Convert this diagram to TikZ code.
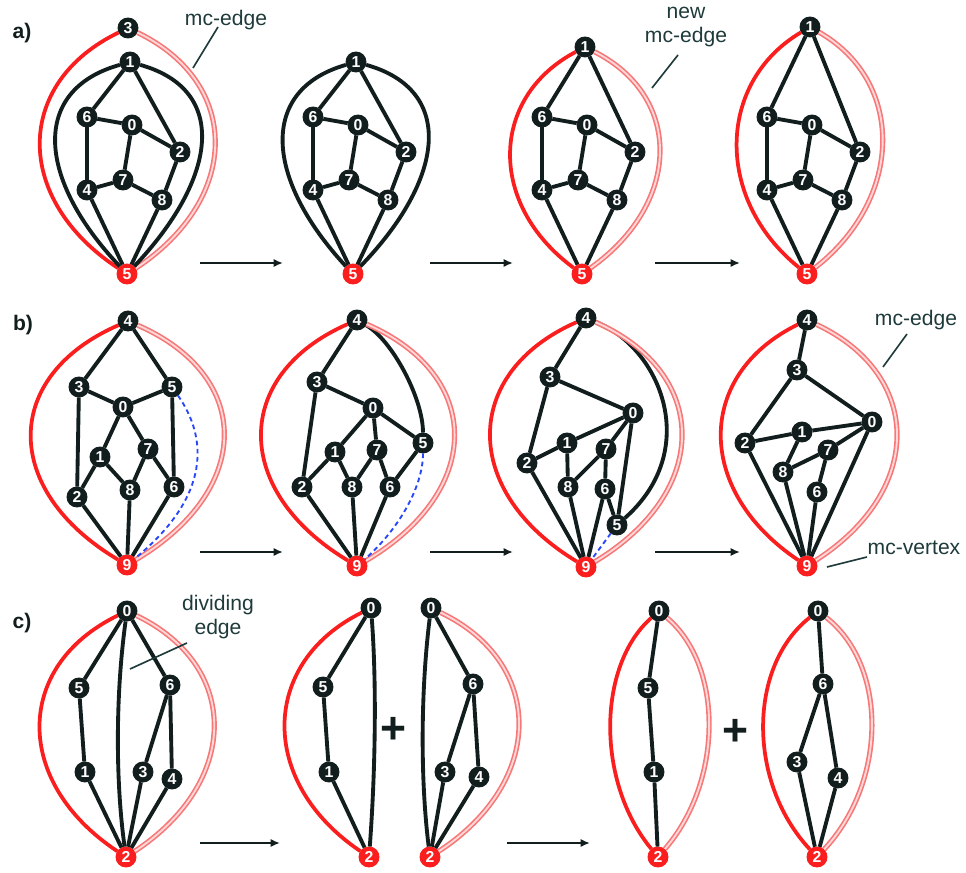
\documentclass[tikz,border=0pt]{standalone}
\usepackage{fontspec}
\setmainfont{Liberation Sans}
\usepackage{xcolor}
\usetikzlibrary{arrows.meta}
\definecolor{ink}    {RGB}{18,30,30}
\definecolor{labelc} {RGB}{30,58,58}
\definecolor{mcred}  {RGB}{250,30,30}
\definecolor{mcpink} {RGB}{246,120,120}
\definecolor{mcpale} {RGB}{255,215,215}
\definecolor{cutblue}{RGB}{40,70,250}
\tikzset{
  vtx/.style     ={circle, fill=ink, draw=ink, line width=0.8pt, text=white,
                   minimum size=0.6cm, inner sep=0pt,
                   font=\fontsize{13.5}{13.5}\selectfont\bfseries},
  rvtx/.style    ={vtx, fill=mcred, draw=mcred},
  link/.style    ={draw=ink, line width=3.3pt},
  mcl/.style     ={draw=mcred, line width=3.2pt},
  mcr/.style     ={draw=mcpink, line width=1.4pt, double=mcpale,
                   double distance=1.6pt},
  dashlink/.style={draw=cutblue, line width=1.6pt, dash pattern=on 4pt off 3pt},
  arr/.style     ={-{Latex[length=8pt,width=7pt]}, draw=ink, line width=2.4pt},
  lbl/.style     ={text=labelc, font=\fontsize{18}{21}\selectfont,
                   inner sep=0pt, align=center},
  leader/.style  ={draw=labelc, line width=1.4pt},
  panel/.style   ={text=ink, font=\fontsize{18}{18}\selectfont\bfseries,
                   inner sep=0pt},
  plussign/.style={text=ink, font=\fontsize{38}{38}\selectfont\bfseries,
                   inner sep=0pt},
}
\begin{document}
\begin{tikzpicture}[x=0.03cm,y=-0.03cm]
  \useasboundingbox (0,0) rectangle (966,873);

  % row a
  \node[panel] (ta) at (22,33) {a)};
  \foreach \p/\s/\t in {a1/0/62,a2/226/62,a3/455/47,a4/680/27}{
    \begin{scope}[shift={(\s,0)}]
      \node[vtx] (\p1) at (130,\t) {1};
      \foreach \n/\x/\y in {6/87/117,0/132/125,2/180/152,7/123/180,4/87/190,8/162/200}
        \node[vtx] (\p\n) at (\x,\y) {\n};
      \node[rvtx] (\p5) at (127,274) {5};
      \foreach \u/\v in {1/6,1/2,6/0,6/4,0/2,0/7,4/7,7/8,2/8,4/5,8/5}
        \draw[link] (\p\u) -- (\p\v);
    \end{scope}
  }
  \node[vtx] (a13) at (128,28) {3};
  \draw[mcl] (a13) .. controls +(-114,55) and +(-114,-75) .. (a15);
  \draw[mcr] (a13) .. controls +(114,55) and +(114,-75) .. (a15);
  \draw[link] (a11) .. controls +(-100,28) and +(-90,-95) .. (a15);
  \draw[link] (a11) .. controls +(100,28) and +(90,-95) .. (a15);
  \draw[link] (a21) .. controls +(-98,28) and +(-88,-95) .. (a25);
  \draw[link] (a21) .. controls +(100,28) and +(92,-95) .. (a25);
  \draw[mcl] (a31) .. controls +(-95,50) and +(-95,-70) .. (a35);
  \draw[mcr] (a31) .. controls +(99,50) and +(99,-70) .. (a35);
  \draw[mcl] (a41) .. controls +(-93,55) and +(-93,-75) .. (a45);
  \draw[mcr] (a41) .. controls +(96,55) and +(96,-75) .. (a45);

  \node[lbl] (la1) at (226,20) {mc-edge};
  \coordinate (la1s) at (218,27);
  \coordinate (la1e) at (193,68);
  \draw[leader] (la1s) -- (la1e);
  \node[lbl] (la3) at (686,27) {new\\mc-edge};
  \coordinate (la3s) at (678,55);
  \coordinate (la3e) at (652,88);
  \draw[leader] (la3s) -- (la3e);

  % row b
  \node[panel] (tb) at (23,325) {b)};
  \foreach \n/\x/\y in {4/128/321,3/79/387,5/172/387,0/123/407,7/148/449,1/100/457,2/77/497,8/130/490,6/174/487}
    \node[vtx] (b1\n) at (\x,\y) {\n};
  \node[rvtx] (b19) at (127,565) {9};
  \foreach \u/\v in {4/3,4/5,3/0,5/0,3/2,5/6,0/1,0/7,1/2,1/8,7/8,7/6,2/9,8/9,6/9}
    \draw[link] (b1\u) -- (b1\v);
  \draw[mcl] (b14) .. controls +(-126,55) and +(-126,-75) .. (b19);
  \draw[mcr] (b14) .. controls +(126,55) and +(126,-75) .. (b19);
  \draw[dashlink] (b15) .. controls +(35,50) and +(85,-70) .. (b19);

  \foreach \n/\x/\y in {4/357/320,3/317/382,0/373/408,1/335/452,7/377/450,5/423/443,2/302/487,8/352/487,6/390/487}
    \node[vtx] (b2\n) at (\x,\y) {\n};
  \node[rvtx] (b29) at (357,566) {9};
  \foreach \u/\v in {4/3,3/0,3/2,0/1,0/7,0/5,1/2,1/8,7/8,7/6,5/6,2/9,8/9,6/9}
    \draw[link] (b2\u) -- (b2\v);
  \draw[link] (b24) .. controls +(35,20) and +(0,-45) .. (b25);
  \draw[mcl] (b24) .. controls +(-125,55) and +(-125,-75) .. (b29);
  \draw[mcr] (b24) .. controls +(127,55) and +(127,-75) .. (b29);
  \draw[dashlink] (b25) .. controls +(0,45) and +(40,-35) .. (b29);

  \foreach \n/\x/\y in {4/586/318,3/550/377,0/633/413,1/567/443,7/606/449,2/527/463,8/568/487,6/605/489,5/617/525}
    \node[vtx] (b3\n) at (\x,\y) {\n};
  \node[rvtx] (b39) at (586,567) {9};
  \foreach \u/\v in {4/3,3/0,3/2,0/1,0/7,0/5,1/2,1/8,7/8,7/6,6/5,2/9,8/9,6/9}
    \draw[link] (b3\u) -- (b3\v);
  \draw[link] (b34) .. controls +(75,30) and +(85,-75) .. (b35);
  \draw[mcl] (b34) .. controls +(-125,55) and +(-125,-75) .. (b39);
  \draw[mcr] (b34) .. controls +(125,55) and +(125,-75) .. (b39);
  \draw[dashlink] (b35) -- (b39);

  \foreach \n/\x/\y in {4/807/320,3/797/370,0/872/422,1/802/432,2/745/443,7/828/450,8/783/472,6/817/492}
    \node[vtx] (b4\n) at (\x,\y) {\n};
  \node[rvtx] (b49) at (807,566) {9};
  \foreach \u/\v in {4/3,3/2,3/0,2/1,1/0,2/9,1/8,8/7,7/0,7/6,8/9,6/9,0/9}
    \draw[link] (b4\u) -- (b4\v);
  \draw[mcl] (b44) .. controls +(-112,55) and +(-112,-75) .. (b49);
  \draw[mcr] (b44) .. controls +(117,55) and +(117,-75) .. (b49);

  \node[lbl] (lb1) at (916,320) {mc-edge};
  \coordinate (lb1s) at (907,334);
  \coordinate (lb1e) at (883,367);
  \draw[leader] (lb1s) -- (lb1e);
  \node[lbl] (lb2) at (914,548) {mc-vertex};
  \coordinate (lb2s) at (867,557);
  \coordinate (lb2e) at (827,567);
  \draw[leader] (lb2s) -- (lb2e);

  % row c
  \node[panel] (tc) at (22,623) {c)};
  \foreach \n/\x/\y in {0/127/611,5/79/688,6/170/685,1/85/772,3/143/772,4/172/779}
    \node[vtx] (c1\n) at (\x,\y) {\n};
  \node[rvtx] (c12) at (126,857) {2};
  \foreach \u/\v in {0/5,0/6,5/1,1/2,6/3,6/4,3/2,4/2}
    \draw[link] (c1\u) -- (c1\v);
  \draw[link] (c10) .. controls +(-11,80) and +(-11,-80) .. (c12);
  \draw[mcl] (c10) .. controls +(-113,55) and +(-113,-75) .. (c12);
  \draw[mcr] (c10) .. controls +(114,55) and +(114,-75) .. (c12);

  \node[lbl] (lc1) at (218,617) {dividing\\edge};
  \coordinate (lc1s) at (187,643);
  \coordinate (lc1e) at (130,669);
  \draw[leader] (lc1s) -- (lc1e);

  % split pieces
  \foreach \n/\x/\y in {0/371/608,5/323/687,1/329/772}
    \node[vtx] (c2\n) at (\x,\y) {\n};
  \node[rvtx] (c22) at (369,857) {2};
  \foreach \u/\v in {0/5,5/1,1/2}
    \draw[link] (c2\u) -- (c2\v);
  \draw[link] (c20) .. controls +(6,80) and +(6,-80) .. (c22);
  \draw[mcl] (c20) .. controls +(-111,55) and +(-111,-75) .. (c22);

  \node[plussign] (p1) at (393,730) {+};

  \foreach \n/\x/\y in {0/431/608,6/473/684,3/445/772,4/479/777}
    \node[vtx] (c3\n) at (\x,\y) {\n};
  \node[rvtx] (c32) at (430,857) {2};
  \foreach \u/\v in {0/6,6/3,6/4,3/2,4/2}
    \draw[link] (c3\u) -- (c3\v);
  \draw[link] (c30) .. controls +(-10,80) and +(-10,-80) .. (c32);
  \draw[mcr] (c30) .. controls +(115,55) and +(115,-75) .. (c32);

  \foreach \n/\x/\y in {0/659/611,5/648/688,1/654/772}
    \node[vtx] (c4\n) at (\x,\y) {\n};
  \node[rvtx] (c42) at (658,857) {2};
  \foreach \u/\v in {0/5,5/1,1/2}
    \draw[link] (c4\u) -- (c4\v);
  \draw[mcl] (c40) .. controls +(-62,55) and +(-62,-75) .. (c42);
  \draw[mcr] (c40) .. controls +(65,55) and +(65,-75) .. (c42);

  \node[plussign] (p2) at (735,732) {+};

  \foreach \n/\x/\y in {0/818/611,6/823/684,3/797/762,4/838/778}
    \node[vtx] (c5\n) at (\x,\y) {\n};
  \node[rvtx] (c52) at (817,857) {2};
  \foreach \u/\v in {0/6,6/3,6/4,3/2,4/2}
    \draw[link] (c5\u) -- (c5\v);
  \draw[mcl] (c50) .. controls +(-70,55) and +(-70,-75) .. (c52);
  \draw[mcr] (c50) .. controls +(70,55) and +(70,-75) .. (c52);

  % arrows between steps
  \foreach \r/\y in {a/263,b/552}
    \foreach \i/\x/\X in {1/200/283,2/430/513,3/655/740}{
      \coordinate (\r\i s) at (\x,\y);
      \coordinate (\r\i e) at (\X,\y);
      \draw[arr] (\r\i s) -- (\r\i e);
    }
  \foreach \i/\x/\X in {1/200/280,2/507/590}{
    \coordinate (c\i s) at (\x,843);
    \coordinate (c\i e) at (\X,843);
    \draw[arr] (c\i s) -- (c\i e);
  }
\end{tikzpicture}
\end{document}
